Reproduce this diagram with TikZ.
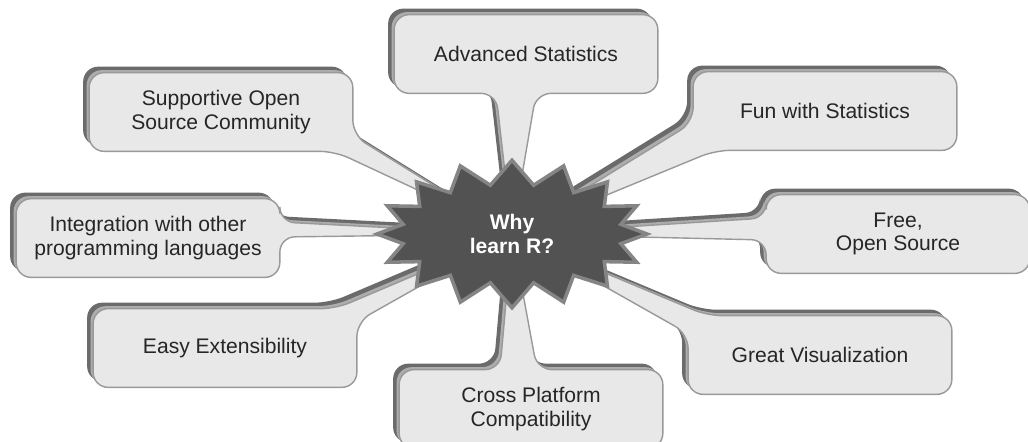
\documentclass[tikz,border=0pt]{standalone}
\usepackage{fontspec}
\setmainfont{Liberation Sans}
\usetikzlibrary{shapes.symbols, shadows, calc, backgrounds}

\begin{document}
\begin{tikzpicture}[
    reason/.style={minimum width=5.26cm, minimum height=1.56cm, inner sep=0pt, align=center,
        text=black!85, font=\fontsize{12}{13.2}\selectfont},
    bubble/.style={draw=black!40, line width=0.8pt, fill=black!9, rounded corners=0.3cm,
        drop shadow={shadow xshift=-0.12cm, shadow yshift=0.12cm, fill=black!58, opacity=1},
        drop shadow={shadow xshift=-0.05cm, shadow yshift=0.05cm, fill=black!32, opacity=1}},
    burst/.style={starburst, starburst points=16, starburst point height=0.48cm, random starburst=0,
        fill=black!68, draw=black!48, line width=2pt, text=white, align=center,
        font=\fontsize{12}{13.2}\selectfont\bfseries, minimum width=5.4cm, minimum height=2.95cm}
]
    \useasboundingbox (0,0) rectangle (20.56,-8.82);
    \coordinate (hub) at (10.24,-4.68);

    % Reasons round the hub
    \node[reason] (adv) at (10.52,-1.08) {Advanced Statistics};
    \node[reason] (sup) at (4.42,-2.24) {Supportive Open\\Source Community};
    \node[reason] (fun) at (16.5,-2.22) {Fun with Statistics};
    \node[reason] (int) at (2.96,-4.76) {Integration with other\\programming languages};
    \node[reason] (free) at (17.96,-4.68) {Free,\\Open Source};
    \node[reason] (easy) at (4.5,-6.96) {Easy Extensibility};
    \node[reason] (great) at (16.4,-7.1) {Great Visualization};
    \node[reason] (cross) at (10.62,-8.18) {Cross Platform\\Compatibility};

    % Speech bubbles pointing at the hub
    \begin{scope}[on background layer]
        \draw[bubble] (adv.north west) -- (adv.north east) -- (adv.south east)
            -- ($(adv.south)+(0.2,0)$) -- (hub) -- ($(adv.south)+(-0.6,0)$) -- (adv.south west) -- cycle;
        \draw[bubble] (sup.north west) -- (sup.north east) -- ($(sup.south east)+(0,0.32)$)
            -- (hub) -- ($(sup.south east)+(-0.36,0)$) -- (sup.south west) -- cycle;
        \draw[bubble] (fun.north west) -- (fun.north east) -- (fun.south east)
            -- ($(fun.south west)+(0.44,0)$) -- (hub) -- ($(fun.south west)+(0,0.56)$) -- cycle;
        \draw[bubble] (int.north west) -- (int.north east) -- ($(int.east)+(0,0.32)$)
            -- (hub) -- ($(int.east)+(0,0.02)$) -- (int.south east) -- (int.south west) -- cycle;
        \draw[bubble] (free.north west) -- (free.north east) -- (free.south east) -- (free.south west)
            -- ($(free.west)+(0,-0.12)$) -- (hub) -- ($(free.west)+(0,0.32)$) -- cycle;
        \draw[bubble] (easy.north west) -- ($(easy.north east)+(-0.42,0)$) -- (hub)
            -- ($(easy.north east)+(0,-0.26)$) -- (easy.south east) -- (easy.south west) -- cycle;
        \draw[bubble] ($(great.north west)+(0.38,0)$) -- (great.north east) -- (great.south east)
            -- (great.south west) -- ($(great.north west)+(0,-0.36)$) -- (hub) -- cycle;
        \draw[bubble] (cross.north west) -- ($(cross.north)+(-0.62,0)$) -- (hub)
            -- ($(cross.north)+(0.12,0)$) -- (cross.north east) -- (cross.south east) -- (cross.south west) -- cycle;
    \end{scope}

    % Centre
    \node[burst] (why) at (hub) {Why\\learn R?};
\end{tikzpicture}
\end{document}
